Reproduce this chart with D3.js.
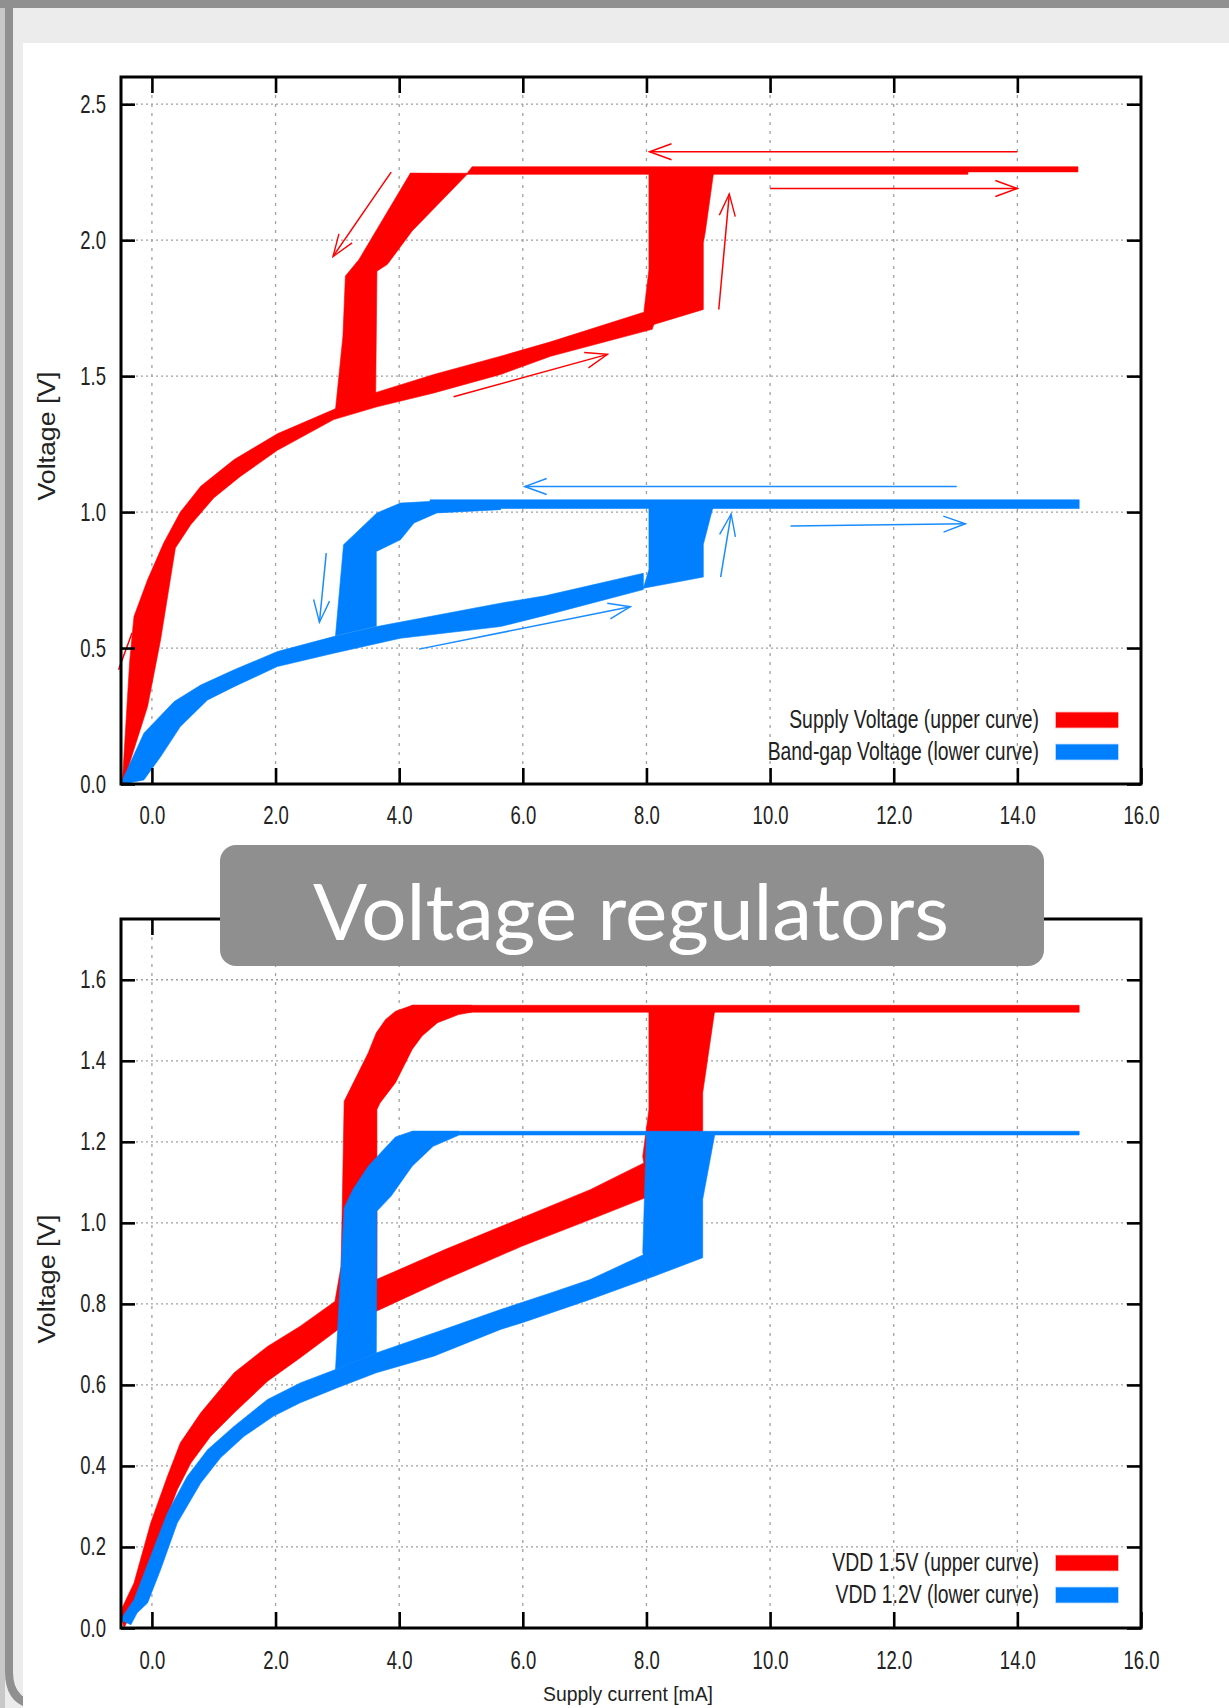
<!DOCTYPE html>
<html lang="en">
<head>
<meta charset="UTF-8">
<title>Voltage regulators</title>
<style>
  body { margin: 0; background: #ececec; }
  svg { display: block; }
  .tick-label { font-family: "Liberation Sans", Arial, sans-serif; font-size: 25px; fill: #222; }
  .legend-label { font-family: "Liberation Sans", Arial, sans-serif; font-size: 25px; fill: #222; }
  .axis-title { font-family: "Liberation Sans", Arial, sans-serif; fill: #222; }
</style>
</head>
<body>
<div id="chart"></div>
<script src="https://cdn.jsdelivr.net/npm/d3@7"></script>
<script>
// ---- data (x: supply current mA, y: voltage V) ----
const xTicks = [0, 2, 4, 6, 8, 10, 12, 14, 16];
const topYTicks = [0, 0.5, 1.0, 1.5, 2.0, 2.5];
const bottomYTicks = [0, 0.2, 0.4, 0.6, 0.8, 1.0, 1.2, 1.4, 1.6];

const topLegend = ["Supply Voltage (upper curve)", "Band-gap Voltage (lower curve)"];
const bottomLegend = ["VDD 1.5V (upper curve)", "VDD 1.2V (lower curve)"];

// upper plot, supply voltage (red) - outlines of the measured bands
const supplyRise = [
  [-0.48, 0.0], [-0.36, 0.45], [-0.29, 0.616], [-0.07, 0.751], [0.19, 0.886], [0.46, 1.0], [0.79, 1.095], [1.33, 1.193],
  [2.03, 1.288], [2.94, 1.377], [3.64, 1.441], [4.56, 1.506], [5.64, 1.573], [6.45, 1.626], [7.93, 1.733], [8.04, 1.74],
  [8.09, 1.672], [6.45, 1.573], [5.64, 1.506], [4.56, 1.438], [3.64, 1.387], [2.94, 1.340], [2.03, 1.227],
  [1.43, 1.131], [1.0, 1.052], [0.63, 0.954], [0.38, 0.868], [0.14, 0.53], [-0.07, 0.285], [-0.37, 0.07], [-0.43, 0.0]
];
const supplyJump = [[7.96, 1.739], [8.04, 1.892], [8.04, 2.255], [9.09, 2.255], [8.95, 2.027], [8.92, 1.99], [8.92, 1.745], [8.12, 1.690], [8.09, 1.672]];
const supplyDrop = [[4.18, 2.246], [3.35, 1.929], [3.13, 1.868], [3.09, 1.647], [2.97, 1.377], [3.62, 1.438], [3.64, 1.886], [3.81, 1.911], [4.21, 2.034], [5.10, 2.242]];
const supplyPlateau = [[4.18, 2.242], [4.18, 2.246], [5.10, 2.246], [5.18, 2.27], [14.98, 2.27], [14.98, 2.251], [13.2, 2.251], [13.2, 2.242]];
const supplyStray = [[-0.54, 0.42], [-0.32, 0.556]];
const supplyArrows = [
  [[14.0, 2.325], [8.05, 2.325]],
  [[10.0, 2.19], [14.0, 2.19]],
  [[9.17, 1.745], [9.34, 2.17]],
  [[3.87, 2.25], [2.93, 1.94]],
  [[4.88, 1.424], [7.37, 1.58]]
];

// upper plot, band-gap voltage (blue)
const gapRise = [
  [-0.49, 0.008], [-0.13, 0.187], [0.36, 0.303], [0.79, 0.364], [1.33, 0.42], [2.03, 0.487], [2.94, 0.542],
  [3.64, 0.579], [5.64, 0.665], [6.36, 0.692], [7.95, 0.775],
  [7.95, 0.715], [6.36, 0.62], [5.64, 0.579], [4.02, 0.536], [2.94, 0.481], [2.03, 0.432], [1.33, 0.358],
  [0.90, 0.309], [0.46, 0.211], [0.14, 0.10], [-0.13, 0.015], [-0.40, 0.003]
];
const gapDrop = [[2.97, 0.545], [3.10, 0.88], [3.64, 0.997], [4.02, 1.033], [4.56, 1.04], [5.64, 1.04], [5.64, 1.009], [4.61, 0.997], [4.24, 0.96], [4.02, 0.898], [3.63, 0.855], [3.63, 0.58]];
const gapPlateau = [[4.5, 1.013], [4.5, 1.045], [15.0, 1.045], [15.0, 1.013]];
const gapJump = [[7.95, 0.72], [8.04, 0.789], [8.04, 1.03], [9.09, 1.03], [8.92, 0.881], [8.92, 0.761]];
const gapArrows = [
  [[13.02, 1.094], [6.03, 1.094]],
  [[10.33, 0.949], [13.16, 0.957]],
  [[9.20, 0.761], [9.37, 0.993]],
  [[2.82, 0.849], [2.71, 0.595]],
  [[4.32, 0.496], [7.74, 0.652]]
];

// lower plot, VDD 1.5V (red)
const vdd15Rise = [
  [-0.51, 0.041], [-0.29, 0.111], [-0.02, 0.259], [0.25, 0.374], [0.46, 0.457], [0.79, 0.531], [1.33, 0.630],
  [1.87, 0.695], [2.40, 0.745], [2.96, 0.806], [3.63, 0.86], [4.74, 0.934], [5.98, 1.012], [7.09, 1.082], [7.96, 1.148], [8.05, 1.16],
  [8.05, 1.066], [7.09, 1.008], [5.98, 0.942], [4.74, 0.86], [3.63, 0.782], [3.05, 0.741], [2.40, 0.667], [1.87, 0.609],
  [1.33, 0.531], [0.95, 0.473], [0.63, 0.407], [0.41, 0.341], [0.14, 0.235], [-0.13, 0.111], [-0.34, 0.037], [-0.45, 0.0]
];
const vdd15Drop = [
  [2.96, 0.806], [3.06, 0.893], [3.08, 1.049], [3.11, 1.30], [3.50, 1.420], [3.63, 1.469], [3.78, 1.502], [3.94, 1.522],
  [4.21, 1.537], [5.17, 1.537], [5.17, 1.520], [4.96, 1.514], [4.62, 1.494], [4.37, 1.461], [4.21, 1.428], [3.94, 1.346],
  [3.69, 1.296], [3.64, 1.280], [3.64, 0.86]
];
const vdd15Plateau = [[4.21, 1.520], [4.21, 1.537], [15.0, 1.537], [15.0, 1.520]];
const vdd15Jump = [[8.05, 1.066], [7.94, 1.164], [8.04, 1.28], [8.04, 1.53], [9.11, 1.53], [8.91, 1.321], [8.91, 1.10]];

// lower plot, VDD 1.2V (blue)
const vdd12Rise = [
  [-0.51, 0.020], [-0.29, 0.070], [-0.02, 0.177], [0.25, 0.284], [0.57, 0.374], [0.90, 0.440], [1.33, 0.498],
  [1.87, 0.564], [2.40, 0.605], [2.97, 0.638], [3.63, 0.679], [4.56, 0.728], [5.64, 0.786], [6.45, 0.827], [7.09, 0.86], [7.96, 0.922],
  [8.12, 0.868], [7.09, 0.811], [5.98, 0.753], [5.64, 0.737], [4.56, 0.671], [3.63, 0.630], [3.0, 0.593], [2.40, 0.556],
  [1.97, 0.523], [1.49, 0.473], [1.11, 0.420], [0.79, 0.358], [0.41, 0.259], [0.14, 0.144], [-0.07, 0.062], [-0.24, 0.037], [-0.34, 0.008]
];
const vdd12Drop = [
  [2.97, 0.638], [3.11, 1.037], [3.25, 1.082], [3.50, 1.140], [3.75, 1.181], [3.94, 1.212], [4.21, 1.226], [4.96, 1.226],
  [4.96, 1.216], [4.55, 1.189], [4.21, 1.140], [3.87, 1.066], [3.64, 1.029], [3.63, 0.679]
];
const vdd12Plateau = [[4.21, 1.217], [4.21, 1.226], [15.0, 1.226], [15.0, 1.217]];
const vdd12Jump = [[7.94, 0.926], [8.0, 1.222], [9.11, 1.222], [8.91, 1.058], [8.91, 0.914], [8.12, 0.868]];

// ---- drawing ----
const width = 1229, height = 1708;
const RED = "#ff0000", BLUE = "#0080ff";

const svg = d3.select("#chart").append("svg")
  .attr("width", width)
  .attr("height", height);

// window frame + white slide area
svg.append("rect").attr("width", width).attr("height", height).attr("fill", "#ececec");
svg.append("rect").attr("x", 0).attr("y", 8).attr("width", 5).attr("height", height).attr("fill", "#c8c8c8");
svg.append("rect").attr("x", 0).attr("y", 0).attr("width", width).attr("height", 8).attr("fill", "#909090");
svg.append("path").attr("d", "M9,4 V1672 Q9,1706 44,1706")
  .attr("fill", "none").attr("stroke", "#909090").attr("stroke-width", 8);
svg.append("rect").attr("x", 23).attr("y", 43).attr("width", width - 23).attr("height", height - 43).attr("fill", "#fff");

// arrow heads
const defs = svg.append("defs");
[["red", RED], ["blue", "#1a8cff"]].forEach(([name, col]) => {
  defs.append("marker")
    .attr("id", "head-" + name)
    .attr("viewBox", "-24 -11 26 22")
    .attr("refX", 0).attr("refY", 0)
    .attr("markerWidth", 26).attr("markerHeight", 22)
    .attr("markerUnits", "userSpaceOnUse")
    .attr("orient", "auto")
    .append("path")
    .attr("d", "M-22,-8L0,0L-22,8")
    .attr("fill", "none").attr("stroke", col).attr("stroke-width", 1.4);
});

const x = d3.scaleLinear().domain([-0.5, 16]).range([121, 1141]);
const fmt = d3.format(".1f");

function drawPanel(p) {
  const y = d3.scaleLinear().domain(p.yDomain).range([p.bottom, p.top]);
  const g = svg.append("g");
  const line = d3.line().x(d => x(d[0])).y(d => y(d[1]));

  // grid
  g.selectAll(".hgrid").data(p.yTicks.filter(v => v > 0)).join("line")
    .attr("x1", x.range()[0]).attr("x2", x.range()[1])
    .attr("y1", d => y(d)).attr("y2", d => y(d))
    .attr("stroke", "#a0a0a0").attr("stroke-width", 1.3).attr("stroke-dasharray", "2,3");
  g.selectAll(".vgrid").data(xTicks.filter(v => v < 16)).join("line")
    .attr("x1", d => x(d)).attr("x2", d => x(d))
    .attr("y1", p.top).attr("y2", p.bottom)
    .attr("stroke", "#a0a0a0").attr("stroke-width", 1.3).attr("stroke-dasharray", "3,6");

  // measured bands
  g.selectAll(".band").data(p.bands).join("path")
    .attr("d", d => line(d.pts) + "Z")
    .attr("fill", d => d.color)
    .attr("stroke", d => d.color).attr("stroke-width", 0.6);

  (p.strays || []).forEach(s => {
    g.append("path").attr("d", line(s.pts)).attr("fill", "none")
      .attr("stroke", s.color).attr("stroke-width", 1.5);
  });

  // direction arrows
  (p.arrows || []).forEach(a => {
    g.selectAll(null).data(a.list).join("path")
      .attr("d", d => line(d))
      .attr("fill", "none")
      .attr("stroke", a.color).attr("stroke-width", 1.5)
      .attr("marker-end", `url(#head-${a.name})`);
  });

  // axes with inward ticks on all four sides
  const axB = g.append("g").attr("transform", `translate(0,${p.bottom})`)
    .call(d3.axisBottom(x).tickValues(xTicks).tickFormat(fmt).tickSizeInner(-16).tickSizeOuter(0).tickPadding(p.xPad));
  const axT = g.append("g").attr("transform", `translate(0,${p.top})`)
    .call(d3.axisTop(x).tickValues(xTicks.filter(v => v < 16)).tickFormat("").tickSizeInner(-16).tickSizeOuter(0));
  const axL = g.append("g").attr("transform", `translate(${x.range()[0]},0)`)
    .call(d3.axisLeft(y).tickValues(p.yTicks).tickFormat(fmt).tickSizeInner(-14).tickSizeOuter(0).tickPadding(15));
  const axR = g.append("g").attr("transform", `translate(${x.range()[1]},0)`)
    .call(d3.axisRight(y).tickValues(p.yTicks).tickFormat("").tickSizeInner(-14).tickSizeOuter(0));
  [axB, axT, axL, axR].forEach(a => {
    a.select(".domain").remove();
    a.selectAll("line").attr("stroke", "#000").attr("stroke-width", 2.6);
  });
  axB.selectAll("text").attr("class", "tick-label").attr("transform", "scale(0.74,1)");
  axL.selectAll("text").attr("class", "tick-label").attr("x", -15 / 0.74).attr("transform", "scale(0.74,1)");

  // frame
  g.append("rect")
    .attr("x", x.range()[0]).attr("y", p.top)
    .attr("width", x.range()[1] - x.range()[0]).attr("height", p.bottom - p.top)
    .attr("fill", "none").attr("stroke", "#000").attr("stroke-width", 3);

  // legend
  const lg = g.append("g");
  p.legend.forEach((name, i) => {
    const cy = p.legendY + i * 32;
    lg.append("rect")
      .attr("x", 1056).attr("y", cy - 7.5).attr("width", 62).attr("height", 15)
      .attr("fill", p.legendColors[i]).attr("stroke", p.legendColors[i]).attr("stroke-opacity", 0.4).attr("stroke-width", 1.5);
    lg.append("text")
      .attr("class", "legend-label")
      .attr("text-anchor", "end")
      .attr("transform", `translate(1039,${cy + 8}) scale(0.775,1)`)
      .text(name);
  });

  // y axis title
  g.append("text")
    .attr("class", "axis-title")
    .attr("transform", `translate(55,${p.yTitleY}) rotate(-90)`)
    .attr("text-anchor", "middle")
    .attr("font-size", 23)
    .attr("textLength", 129).attr("lengthAdjust", "spacingAndGlyphs")
    .text("Voltage [V]");
}

drawPanel({
  top: 77, bottom: 784, yDomain: [0, 2.6], yTicks: topYTicks, xPad: 22,
  bands: [
    { pts: supplyRise, color: RED }, { pts: supplyJump, color: RED },
    { pts: supplyDrop, color: RED }, { pts: supplyPlateau, color: RED },
    { pts: gapRise, color: BLUE }, { pts: gapJump, color: BLUE },
    { pts: gapDrop, color: BLUE }, { pts: gapPlateau, color: BLUE }
  ],
  strays: [{ pts: supplyStray, color: RED }],
  arrows: [
    { list: supplyArrows, color: RED, name: "red" },
    { list: gapArrows, color: "#1a8cff", name: "blue" }
  ],
  legend: topLegend, legendColors: [RED, BLUE], legendY: 720,
  yTitleY: 436
});

drawPanel({
  top: 919, bottom: 1628, yDomain: [0, 1.75], yTicks: bottomYTicks, xPad: 23,
  bands: [
    { pts: vdd15Rise, color: RED }, { pts: vdd15Drop, color: RED },
    { pts: vdd15Plateau, color: RED }, { pts: vdd15Jump, color: RED },
    { pts: vdd12Rise, color: BLUE }, { pts: vdd12Drop, color: BLUE },
    { pts: vdd12Plateau, color: BLUE }, { pts: vdd12Jump, color: BLUE }
  ],
  legend: bottomLegend, legendColors: [RED, BLUE], legendY: 1563,
  yTitleY: 1279
});

// x axis title, kept just inside the bottom edge
svg.append("text")
  .attr("class", "axis-title")
  .attr("x", 628).attr("y", 1701)
  .attr("text-anchor", "middle")
  .attr("font-size", 21)
  .attr("textLength", 170).attr("lengthAdjust", "spacingAndGlyphs")
  .text("Supply current [mA]");

// slide title box
svg.append("rect")
  .attr("x", 220).attr("y", 845).attr("width", 824).attr("height", 121)
  .attr("rx", 16).attr("fill", "#8f8f8f");
svg.append("text")
  .attr("x", 631).attr("y", 940)
  .attr("text-anchor", "middle")
  .attr("font-family", "Lato, 'Open Sans', sans-serif")
  .attr("font-size", 77)
  .attr("fill", "#fff")
  .attr("textLength", 636).attr("lengthAdjust", "spacingAndGlyphs")
  .text("Voltage regulators");
</script>
</body>
</html>
